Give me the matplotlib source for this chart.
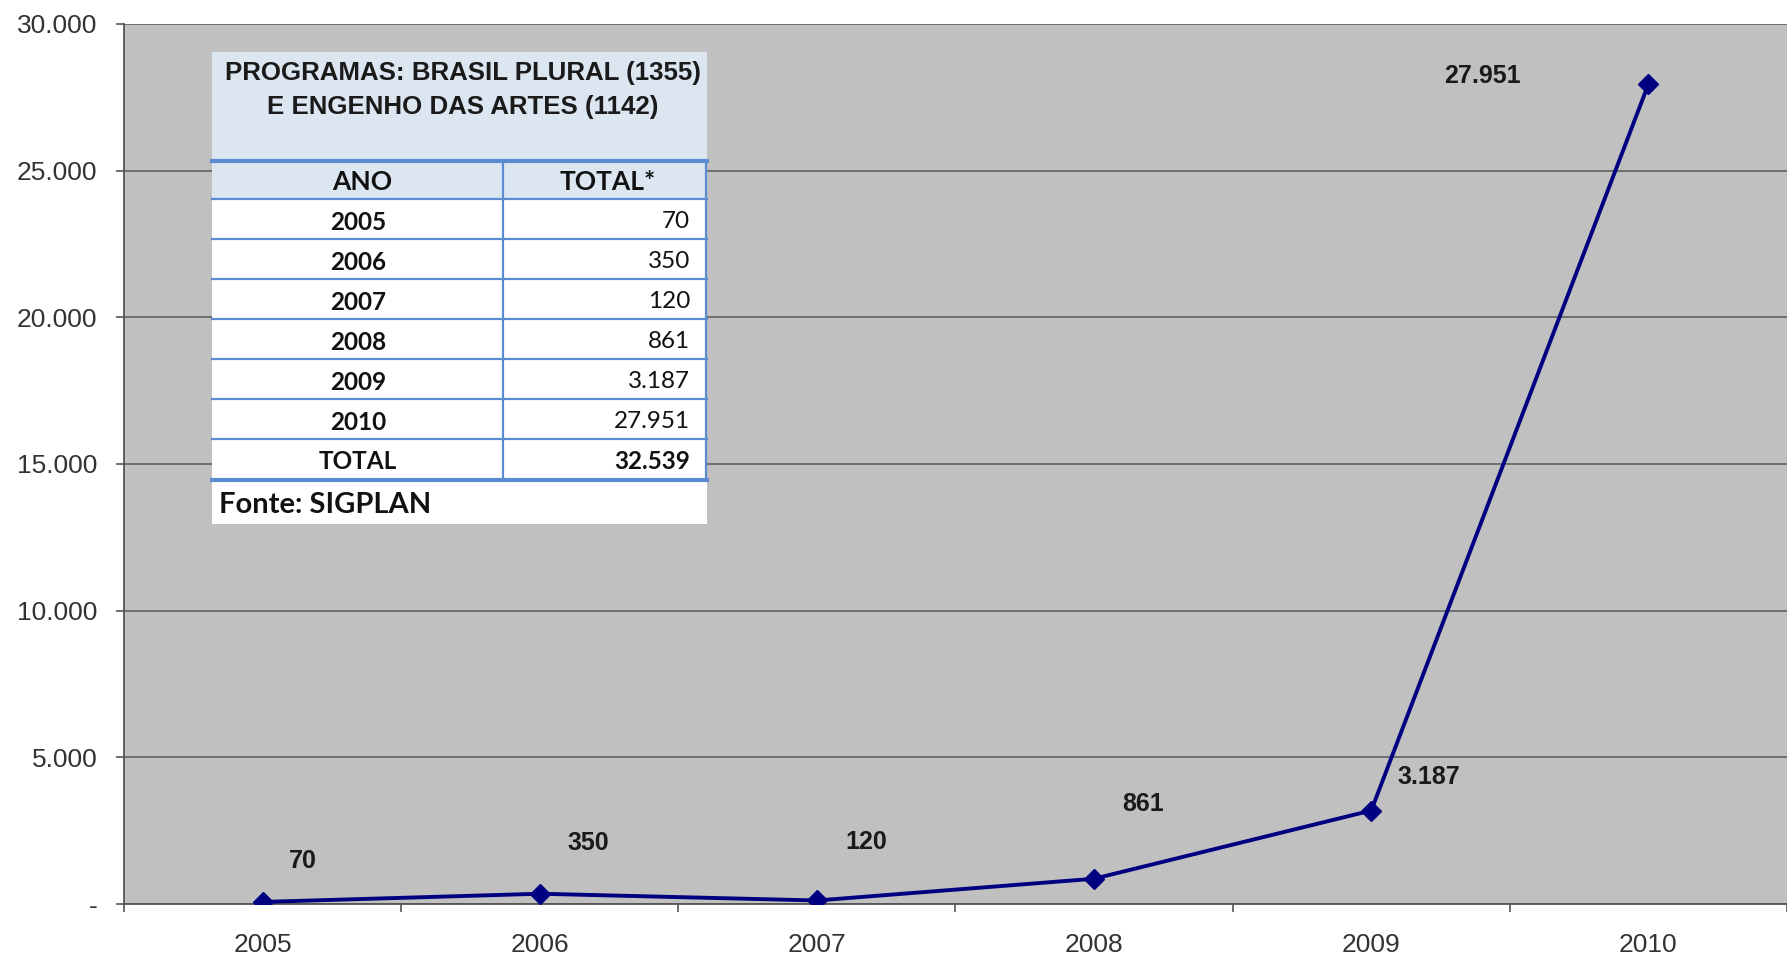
import matplotlib
matplotlib.use("Agg")
import matplotlib.pyplot as plt
from matplotlib.patches import Rectangle
from matplotlib.lines import Line2D
from matplotlib.ticker import FuncFormatter, FixedLocator

# ---- data ----
years = ["2005", "2006", "2007", "2008", "2009", "2010"]
totals = [70, 350, 120, 861, 3187, 27951]
y_ticks = [0, 5000, 10000, 15000, 20000, 25000, 30000]
table_title = ["PROGRAMAS: BRASIL PLURAL (1355)", "E ENGENHO DAS ARTES (1142)"]
table_header = ["ANO", "TOTAL*"]
total_label = "TOTAL"
source_label = "Fonte: SIGPLAN"
# data label offsets in pixels (dx, dy)
label_offsets = [(40, 41), (49, 51), (49, 58), (49, 75), (58, 34), (-166, 8)]

W, H = 1787, 960
DPI = 100


def fmt(v):
    return "-" if v == 0 else f"{v:,.0f}".replace(",", ".")


fig = plt.figure(figsize=(W / DPI, H / DPI), dpi=DPI)
fig.patch.set_facecolor("white")

ax = fig.add_axes([124 / W, 56 / H, 1 - 124 / W, (904 - 24) / H])
ax.set_facecolor("#C0C0C0")
x = list(range(len(years)))
ax.plot(x, totals, color="#000080", lw=2.8, marker="D", markersize=10,
        markerfacecolor="#000080", markeredgecolor="#000080", zorder=3)

for xi, v, (dx, dy) in zip(x, totals, label_offsets):
    ax.annotate(fmt(v), (xi, v), xytext=(dx, dy), textcoords="offset pixels",
                ha="center", va="center", fontsize=18, fontweight="bold",
                family="Liberation Sans", color="#1a1a1a")

ax.set_xlim(-0.5, 5.46)
ax.set_ylim(0, 30000)
ax.yaxis.set_major_locator(FixedLocator(y_ticks))
ax.yaxis.set_major_formatter(FuncFormatter(lambda v, p: fmt(v)))
ax.set_xticks(x)
ax.set_xticklabels(years)
ax.set_xticks([i + 0.5 for i in range(-1, len(years))], minor=True)
ax.tick_params(axis="x", which="major", length=0, pad=21, labelsize=19,
               labelcolor="#333333")
ax.tick_params(axis="x", which="minor", length=6, width=1.2, color="#555555")
ax.tick_params(axis="y", length=6, width=1.2, color="#555555", pad=13,
               labelsize=19, labelcolor="#333333")
for lab in ax.get_xticklabels() + ax.get_yticklabels():
    lab.set_family("Liberation Sans")

ax.grid(axis="y", color="#6E6E6E", lw=1.4)
ax.set_axisbelow(True)
for s in ["top", "right"]:
    ax.spines[s].set_visible(False)
ax.spines["left"].set_color("#555555")
ax.spines["bottom"].set_color("#555555")
ax.spines["left"].set_linewidth(1.3)
ax.spines["bottom"].set_linewidth(1.3)

# ---- inset table (figure pixel coords, y from top) ----
def fx(px):
    return px / W


def fy(py):
    return 1 - py / H


def rect(x0, y0, x1, y1, color):
    fig.add_artist(Rectangle((fx(x0), fy(y1)), fx(x1) - fx(x0), fy(y0) - fy(y1),
                             transform=fig.transFigure, facecolor=color,
                             edgecolor="none", zorder=10))


def hline(x0, x1, y, lw, color="#5B8BD0"):
    fig.add_artist(Line2D([fx(x0), fx(x1)], [fy(y), fy(y)], transform=fig.transFigure,
                          color=color, lw=lw, zorder=11))


def vline(xp, y0, y1, lw, color="#5B8BD0"):
    fig.add_artist(Line2D([fx(xp), fx(xp)], [fy(y0), fy(y1)], transform=fig.transFigure,
                          color=color, lw=lw, zorder=11))


TX0, TX1 = 212, 707
COLX = 503
rect(TX0, 52, TX1, 524, "white")
rect(TX0, 52, TX1, 161, "#DCE6F1")
rect(TX0, 161, TX1, 198, "#DCE6F1")

title_y = [73, 107]
for t, yy in zip(table_title, title_y):
    fig.text(fx(463), fy(yy), t, ha="center", va="center", fontsize=18.6,
             fontweight="bold", family="Liberation Sans", color="#1a1a1a", zorder=12)

fig.text(fx(362), fy(182), table_header[0], ha="center", va="center", fontsize=19,
         fontweight="bold", family="Lato", color="#111111", zorder=12)
fig.text(fx(608), fy(182), table_header[1], ha="center", va="center", fontsize=19,
         fontweight="bold", family="Lato", color="#111111", zorder=12)

row_h = 40
row_top = 199
rows = list(zip(years, [fmt(v) for v in totals])) + [(total_label, fmt(sum(totals)))]
for i, (yr, val) in enumerate(rows):
    yc = row_top + row_h * i + row_h / 2 + 3
    last = i == len(rows) - 1
    fig.text(fx(358), fy(yc), yr, ha="center", va="center", fontsize=17.5,
             fontweight="bold", family="Lato", color="#111111", zorder=12)
    fig.text(fx(690), fy(yc), val, ha="right", va="center", fontsize=17.5,
             fontweight="bold" if last else "normal", family="Lato",
             color="#111111", zorder=12)

hline(TX0, TX1, 161, 3.0)
for i in range(len(rows)):
    hline(TX0, TX1, row_top + row_h * i, 1.6)
hline(TX0, TX1, row_top + row_h * len(rows) + 1, 3.0)
vline(COLX, 161, row_top + row_h * len(rows) + 1, 1.6)
vline(TX1 - 1, 161, row_top + row_h * len(rows) + 1, 1.6)

fig.text(fx(219), fy(505), source_label, ha="left", va="center", fontsize=21,
         fontweight="bold", family="Lato", color="#111111", zorder=12)

fig.savefig("out.png", dpi=DPI)
